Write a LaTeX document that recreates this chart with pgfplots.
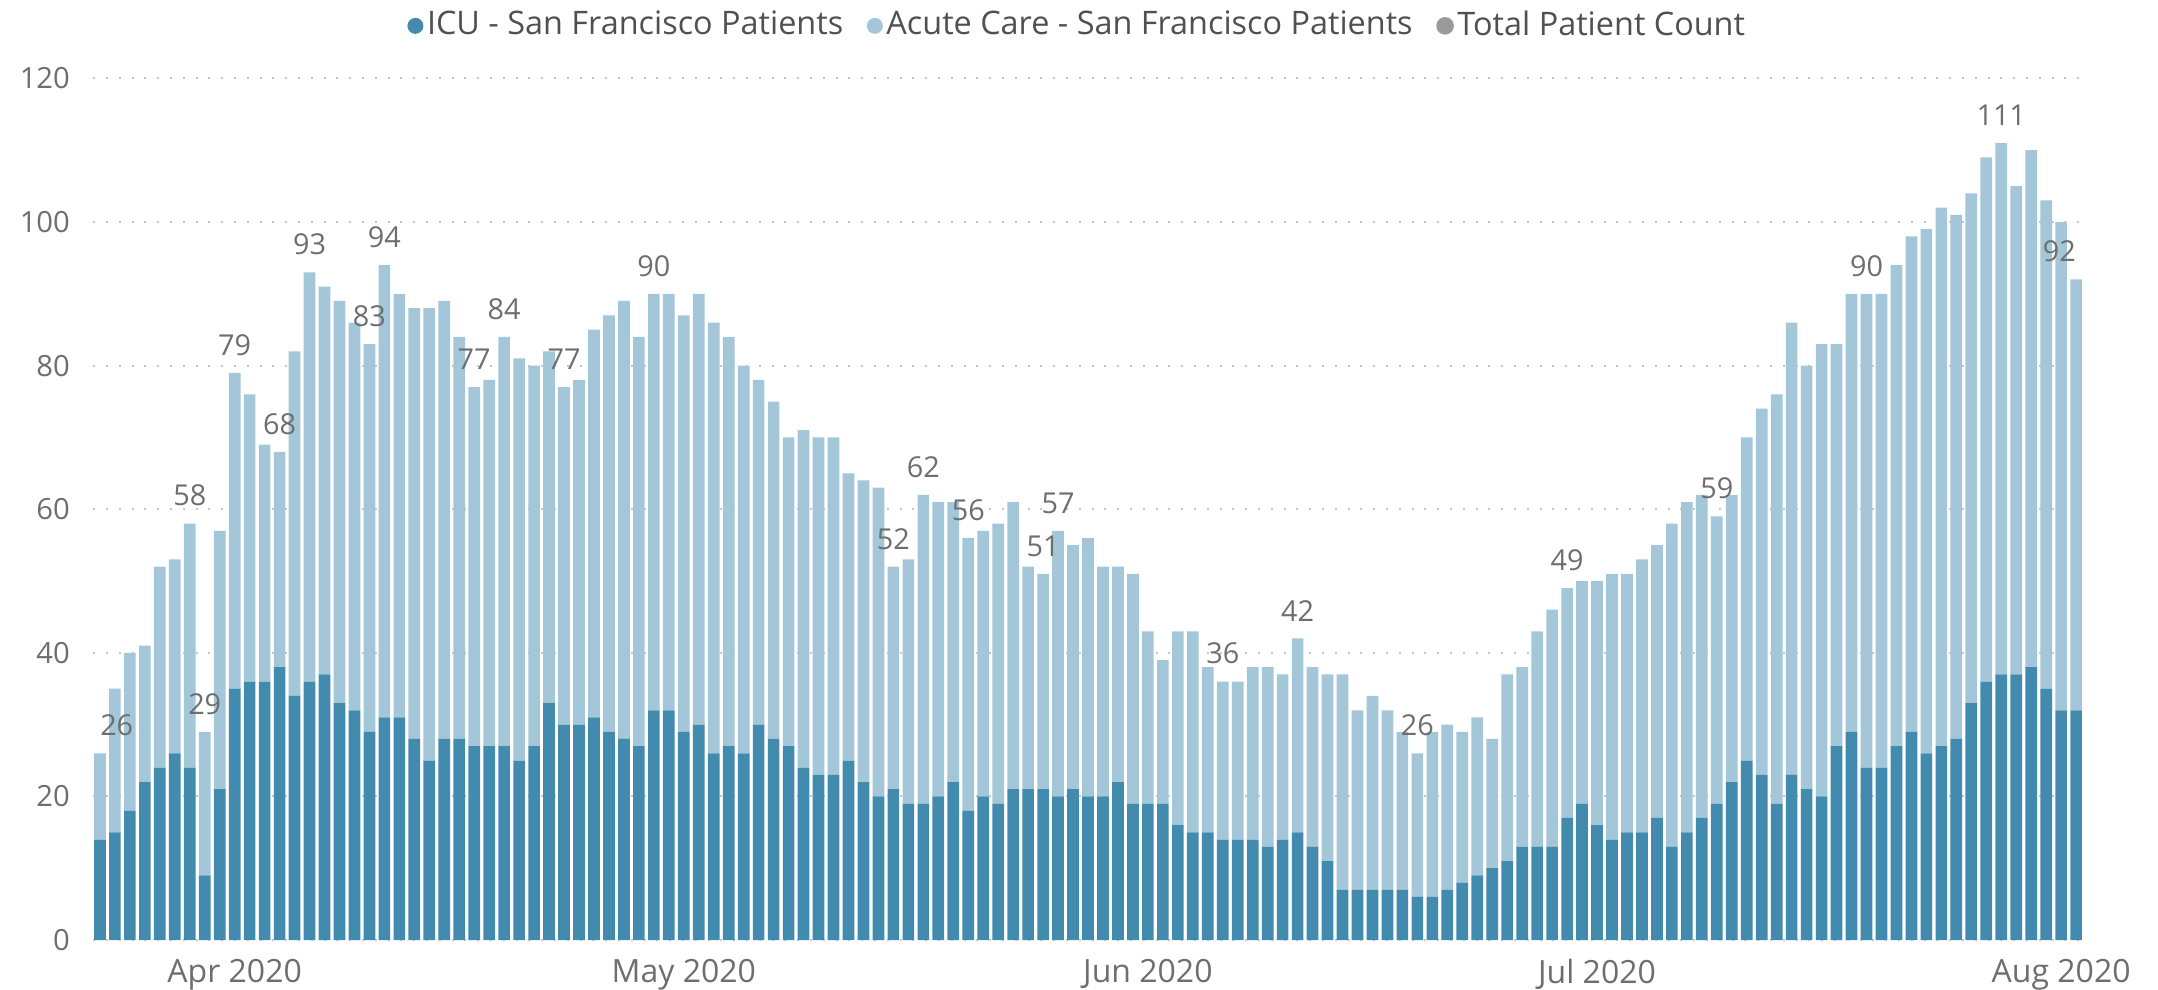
\documentclass[border=0pt]{standalone}
\usepackage{fontspec}
\setmainfont{Open Sans}
\usepackage{pgfplots}
\usepackage{pgfplotstable}
\pgfplotsset{compat=1.18}

\definecolor{icu}{HTML}{428BAE}
\definecolor{acute}{HTML}{A3C6D9}
\definecolor{totalc}{HTML}{9A9A9A}
\definecolor{txt}{HTML}{6E6E6E}
\definecolor{legtxt}{HTML}{505050}

% daily census, bar 0 = 23 Mar 2020
\pgfplotstableread{
x icu acute
0 14 12
1 15 20
2 18 22
3 22 19
4 24 28
5 26 27
6 24 34
7 9 20
8 21 36
9 35 44
10 36 40
11 36 33
12 38 30
13 34 48
14 36 57
15 37 54
16 33 56
17 32 54
18 29 54
19 31 63
20 31 59
21 28 60
22 25 63
23 28 61
24 28 56
25 27 50
26 27 51
27 27 57
28 25 56
29 27 53
30 33 49
31 30 47
32 30 48
33 31 54
34 29 58
35 28 61
36 27 57
37 32 58
38 32 58
39 29 58
40 30 60
41 26 60
42 27 57
43 26 54
44 30 48
45 28 47
46 27 43
47 24 47
48 23 47
49 23 47
50 25 40
51 22 42
52 20 43
53 21 31
54 19 34
55 19 43
56 20 41
57 22 39
58 18 38
59 20 37
60 19 39
61 21 40
62 21 31
63 21 30
64 20 37
65 21 34
66 20 36
67 20 32
68 22 30
69 19 32
70 19 24
71 19 20
72 16 27
73 15 28
74 15 23
75 14 22
76 14 22
77 14 24
78 13 25
79 14 23
80 15 27
81 13 25
82 11 26
83 7 30
84 7 25
85 7 27
86 7 25
87 7 22
88 6 20
89 6 23
90 7 23
91 8 21
92 9 22
93 10 18
94 11 26
95 13 25
96 13 30
97 13 33
98 17 32
99 19 31
100 16 34
101 14 37
102 15 36
103 15 38
104 17 38
105 13 45
106 15 46
107 17 45
108 19 40
109 22 40
110 25 45
111 23 51
112 19 57
113 23 63
114 21 59
115 20 63
116 27 56
117 29 61
118 24 66
119 24 66
120 27 67
121 29 69
122 26 73
123 27 75
124 28 73
125 33 71
126 36 73
127 37 74
128 37 68
129 38 72
130 35 68
131 32 68
132 32 60
}\census

\begin{document}
\begin{tikzpicture}
\useasboundingbox (-23.3pt,-12.4pt) rectangle (516.2pt,235pt);
\begin{axis}[
    scale only axis,
    width=497.4pt, height=215.4pt,
    ybar stacked, bar width=0.78,
    xmin=-0.45, xmax=132.45,
    ymin=0, ymax=120,
    ytick={0,20,...,120},
    xtick={9,39,70,100,131},
    xticklabels={Apr 2020,May 2020,Jun 2020,Jul 2020,Aug 2020},
    axis line style={draw=none},
    major tick length=0pt,
    ymajorgrids,
    grid style={color=black!22, line width=0.5pt, dash pattern=on 0.5pt off 2.7pt},
    yticklabel style={font=\fontsize{7.3}{9}\selectfont, text=txt, xshift=-2.3pt},
    xticklabel style={font=\fontsize{8}{9}\selectfont, text=txt, yshift=-1.2pt},
    /pgf/number format/assume math mode=true,
    legend style={at={(0.495,1.061)}, anchor=center, draw=none, fill=none,
        legend columns=-1, font=\fontsize{8.1}{9}\selectfont, text=legtxt,
        nodes={inner sep=0.9pt},
        /tikz/every even column/.append style={column sep=5pt},
        inner sep=0pt},
]
\addplot[fill=icu, draw=none,
    legend image code/.code={\fill[icu] (2pt,0) circle (2pt);}]
    table[x=x, y=icu] {\census};
\addlegendentry{ICU - San Francisco Patients}
\addplot[fill=acute, draw=none,
    legend image code/.code={\fill[acute] (2pt,0) circle (2pt);}]
    table[x=x, y=acute] {\census};
\addlegendentry{Acute Care - San Francisco Patients}
\addlegendimage{legend image code/.code={\fill[totalc] (2pt,0) circle (2pt);}}
\addlegendentry{Total Patient Count}
\end{axis}

% total patient count labels
\begin{axis}[
    scale only axis,
    width=497.4pt, height=215.4pt,
    xmin=-0.45, xmax=132.45,
    ymin=0, ymax=120,
    hide axis, clip=false,
    every node near coord/.append style={font=\fontsize{7.2}{9}\selectfont,
        text=txt, anchor=south, yshift=0.8pt},
    lbl/.style={only marks, mark=*, mark size=0pt,
        scatter/use mapped color={draw opacity=0, fill opacity=0},
        nodes near coords, point meta=explicit symbolic},
]
\addplot[lbl]
coordinates {
    (6,58) [58] (7,29) [29] (9,79) [79] (12,68) [68] (14,93) [93]
    (18,83) [83] (19,94) [94] (25,77) [77] (27,84) [84] (31,77) [77]
    (37,90) [90] (53,52) [52] (55,62) [62] (58,56) [56] (63,51) [51]
    (64,57) [57] (75,36) [36] (80,42) [42] (88,26) [26] (98,49) [49]
    (108,59) [59] (118,90) [90] (127,111) [111]
};
\addplot[lbl, every node near coord/.append style={xshift=4.2pt}]
coordinates {(0,26) [26]};
\addplot[lbl, every node near coord/.append style={xshift=-4.2pt}]
coordinates {(132,92) [92]};
\end{axis}
\end{tikzpicture}
\end{document}
